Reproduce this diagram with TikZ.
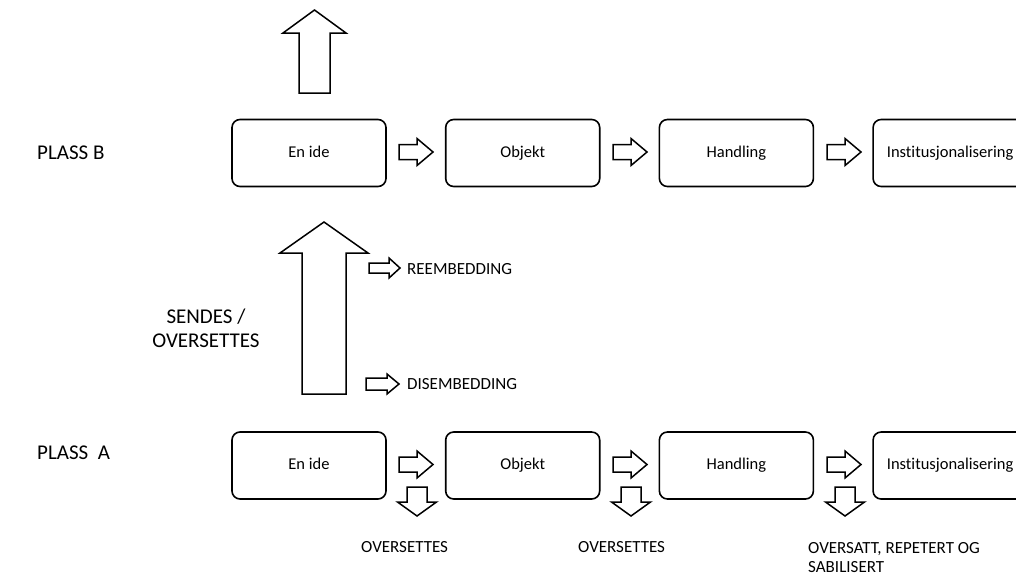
\documentclass[tikz,border=0pt]{standalone}
\usepackage{fontspec}
\setmainfont{Carlito}[Ligatures=CommonOff]
\usetikzlibrary{positioning}
% block arrow: tail x, tail y, angle, length, shaft width, head width, head length
\newcommand{\blockarrow}[7]{%
  \draw[blk, shift={(#1,#2)}, rotate=#3]
    (0,-#5/2) -- (#4-#7,-#5/2) -- (#4-#7,-#6/2) -- (#4,0)
    -- (#4-#7,#6/2) -- (#4-#7,#5/2) -- (0,#5/2) -- cycle;}

\begin{document}
\begin{tikzpicture}[x=1pt, y=-1pt]
  \tikzset{box/.style={draw, line width=1.6pt, rounded corners=8pt, minimum width=154pt,
      minimum height=67pt, inner sep=2pt, text height=11pt, text depth=3pt,
      font=\fontsize{16.5}{20}\selectfont},
    blk/.style={draw, fill=white, line width=1.5pt, line join=miter},
    big/.style={font=\fontsize{21}{24}\selectfont},
    lab/.style={anchor=west, inner sep=0pt, font=\fontsize{17}{19}\selectfont}}
  \useasboundingbox (0,0) rectangle (1016,576);

  % the two rows of steps
  \foreach \i/\t in {1/En ide,2/Objekt,3/Handling,4/Institusjonalisering} {
    \node[box] (b\i) at ({309+213.7*(\i-1)},153) {\t};
    \node[box] (a\i) at ({309+213.7*(\i-1)},465.5) {\t};
  }
  \node[big, anchor=west, inner sep=0pt] (plassb) at (37,153) {PLASS B};
  \node[big, anchor=west, inner sep=0pt] (plassa) at (37,453) {PLASS~~A};

  % arrows between the steps, and down from row A
  \foreach \x in {399,613,827} {
    \blockarrow{\x}{152}{0}{34}{15}{27}{16}
    \blockarrow{\x}{464.5}{0}{34}{15}{27}{16}
    \blockarrow{\x+18}{487}{-90}{29}{20}{39}{14}
  }

  % up out of B, and from A to B
  \blockarrow{314.5}{93}{90}{83}{31}{63}{23}
  \blockarrow{324}{394}{90}{172}{44}{88}{31}
  \node[big, align=center, inner sep=0pt] (sendes) at (206,328) {SENDES /\\OVERSETTES};

  \blockarrow{369}{268}{0}{31}{10}{20}{11}
  \node[lab] (reemb) at (407,269) {REEMBEDDING};
  \blockarrow{366}{384}{0}{33}{12}{20}{12}
  \node[lab] (disemb) at (407,384) {DISEMBEDDING};

  % labels under row A
  \node[lab] (ov1) at (361,547) {OVERSETTES};
  \node[lab] (ov2) at (578,547) {OVERSETTES};
  \node[lab, align=left, anchor=north west] (ov3) at (808,542) {OVERSATT, REPETERT OG\\SABILISERT};
\end{tikzpicture}
\end{document}
